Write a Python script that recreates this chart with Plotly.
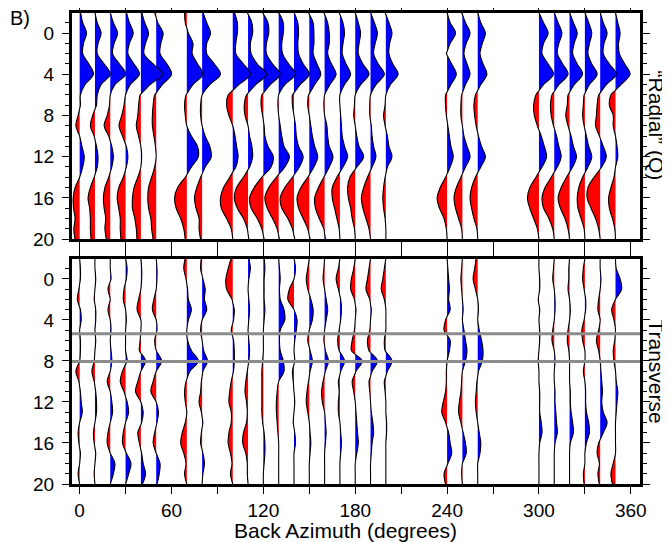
import plotly.graph_objects as go

# time samples (s) and back azimuths (deg) of the stacked receiver functions
TIMES = list(range(-2, 21))
BAZ = [0, 10, 20, 30, 40, 50, 70, 80, 100, 110, 120, 130, 140, 150, 160, 170,
       180, 190, 200, 240, 250, 260, 300, 310, 320, 330, 340, 350]

# "Radial" (Q) amplitudes, one row per back azimuth, sampled at TIMES
R000 = [0.05, 0.2, 0.45, 0.25, 0.2, 0.6, 0.9, 0.35, 0.05, 0.05, -0.1, -0.25, 0.0, 0.15, 0.3, 0.2, 0.0, -0.3, -0.42, -0.4, -0.3, -0.38, -0.3]
R010 = [0.0, 0.15, 0.4, 0.2, 0.15, 0.6, 1.0, 0.4, 0.15, 0.1, -0.15, -0.3, -0.05, 0.1, 0.2, 0.15, -0.05, -0.3, -0.45, -0.35, -0.3, -0.3, -0.25]
R020 = [0.0, 0.2, 0.48, 0.25, 0.15, 0.6, 1.0, 0.3, 0.0, -0.05, -0.2, -0.4, -0.1, 0.1, 0.2, 0.1, -0.1, -0.35, -0.45, -0.4, -0.3, -0.35, -0.25]
R030 = [0.05, 0.25, 0.5, 0.25, 0.15, 0.55, 0.9, 0.3, 0.0, -0.1, -0.25, -0.43, -0.2, 0.05, 0.15, 0.05, -0.15, -0.45, -0.55, -0.45, -0.35, -0.35, -0.3]
R040 = [0.05, 0.25, 0.5, 0.3, 0.2, 0.8, 1.4, 0.6, -0.05, -0.15, -0.2, -0.3, -0.15, 0.0, 0.05, 0.0, -0.2, -0.45, -0.55, -0.55, -0.4, -0.3, -0.25]
R050 = [-0.1, 0.1, 0.45, 0.3, 0.25, 0.7, 1.0, 0.4, -0.1, -0.2, -0.25, -0.25, -0.15, -0.05, 0.0, -0.1, -0.3, -0.5, -0.55, -0.5, -0.35, -0.3, -0.2]
R070 = [-0.15, -0.1, 0.1, 0.4, 0.35, 0.7, 1.05, 0.4, -0.05, -0.15, -0.1, 0.0, 0.3, 0.7, 0.75, 0.3, -0.1, -0.6, -0.8, -0.7, -0.4, -0.2, -0.1]
R080 = [0.05, 0.3, 0.55, 0.3, 0.3, 0.8, 1.2, 0.5, 0.0, -0.1, -0.1, 0.0, 0.2, 0.5, 0.6, 0.2, -0.1, -0.35, -0.5, -0.4, -0.2, -0.2, -0.1]
R100 = [0.1, 0.3, 0.3, 0.2, 0.2, 0.7, 1.15, 0.4, -0.3, -0.4, -0.25, 0.0, 0.15, 0.25, 0.35, 0.2, -0.2, -0.6, -0.8, -0.75, -0.4, -0.1, 0.0]
R110 = [-0.05, 0.25, 0.3, 0.15, 0.2, 0.6, 1.2, 0.5, -0.1, -0.25, -0.2, 0.0, 0.1, 0.25, 0.3, 0.1, -0.3, -0.75, -0.9, -0.7, -0.3, -0.05, 0.05]
R120 = [-0.05, 0.3, 0.35, 0.2, 0.2, 0.6, 1.1, 0.45, -0.1, -0.15, -0.05, 0.05, 0.1, 0.3, 0.65, 0.5, -0.1, -0.6, -0.9, -0.8, -0.4, -0.1, 0.05]
R130 = [0.0, 0.3, 0.3, 0.2, 0.25, 0.65, 1.1, 0.4, 0.0, -0.05, 0.0, 0.1, 0.2, 0.35, 0.7, 0.4, -0.15, -0.65, -0.9, -0.75, -0.4, -0.1, 0.05]
R140 = [0.0, 0.25, 0.3, 0.25, 0.3, 0.6, 1.0, 0.4, -0.1, -0.1, 0.0, 0.1, 0.15, 0.3, 0.6, 0.35, -0.1, -0.6, -0.9, -0.8, -0.4, -0.1, 0.05]
R150 = [-0.05, 0.25, 0.3, 0.3, 0.25, 0.5, 0.75, 0.35, -0.05, -0.1, 0.0, 0.1, 0.2, 0.35, 0.55, 0.3, -0.1, -0.55, -0.8, -0.7, -0.4, -0.1, 0.05]
R160 = [-0.05, 0.2, 0.3, 0.3, 0.2, 0.45, 0.75, 0.35, 0.0, -0.05, 0.0, 0.15, 0.2, 0.3, 0.55, 0.3, -0.05, -0.4, -0.65, -0.6, -0.35, -0.05, 0.05]
R170 = [-0.05, 0.2, 0.3, 0.2, 0.15, 0.4, 0.7, 0.3, 0.0, 0.0, 0.05, 0.1, 0.15, 0.3, 0.5, 0.2, -0.2, -0.5, -0.5, -0.35, -0.2, -0.05, 0.0]
R180 = [0.0, 0.2, 0.35, 0.25, 0.2, 0.5, 0.9, 0.35, 0.0, -0.05, -0.1, 0.0, 0.1, 0.25, 0.55, 0.1, -0.35, -0.5, -0.45, -0.3, -0.2, -0.05, 0.0]
R190 = [0.0, 0.25, 0.45, 0.3, 0.2, 0.5, 0.9, 0.35, 0.0, -0.05, -0.05, 0.05, 0.1, 0.2, 0.35, 0.1, -0.2, -0.45, -0.6, -0.5, -0.3, -0.1, 0.0]
R200 = [-0.05, 0.2, 0.4, 0.25, 0.2, 0.45, 0.8, 0.3, 0.0, -0.05, -0.15, -0.05, 0.1, 0.2, 0.4, 0.1, -0.05, -0.15, -0.2, -0.15, -0.05, 0.0, 0.0]
R240 = [0.0, 0.2, 0.55, 0.2, -0.05, 0.3, 0.6, 0.25, -0.1, -0.1, -0.05, 0.05, 0.15, 0.25, 0.4, 0.2, -0.1, -0.45, -0.65, -0.5, -0.2, -0.05, 0.0]
R250 = [-0.05, 0.2, 0.5, 0.25, 0.1, 0.3, 0.5, 0.2, -0.05, -0.1, -0.1, 0.0, 0.1, 0.3, 0.5, 0.2, -0.1, -0.4, -0.55, -0.45, -0.25, -0.05, 0.0]
R260 = [0.0, 0.2, 0.5, 0.3, 0.15, 0.35, 0.6, 0.2, -0.15, -0.25, -0.2, -0.1, 0.05, 0.25, 0.5, 0.2, -0.15, -0.4, -0.5, -0.4, -0.25, -0.05, 0.0]
R300 = [0.0, 0.3, 0.6, 0.3, 0.2, 0.6, 0.95, 0.3, -0.2, -0.35, -0.3, -0.1, 0.15, 0.35, 0.5, 0.2, -0.2, -0.6, -0.75, -0.6, -0.35, -0.1, 0.0]
R310 = [0.0, 0.25, 0.5, 0.3, 0.2, 0.55, 0.9, 0.3, -0.15, -0.25, -0.2, -0.05, 0.15, 0.3, 0.45, 0.2, -0.2, -0.6, -0.8, -0.7, -0.35, -0.1, 0.0]
R320 = [0.0, 0.25, 0.5, 0.3, 0.2, 0.5, 0.85, 0.3, -0.1, -0.15, -0.25, -0.1, 0.1, 0.25, 0.45, 0.2, -0.2, -0.55, -0.75, -0.6, -0.3, -0.1, 0.0]
R330 = [0.0, 0.25, 0.45, 0.3, 0.2, 0.45, 0.8, 0.3, -0.05, -0.1, -0.15, -0.05, 0.1, 0.25, 0.45, 0.2, -0.15, -0.4, -0.5, -0.45, -0.25, -0.05, 0.0]
R340 = [0.0, 0.2, 0.45, 0.25, 0.2, 0.6, 1.05, 0.4, -0.1, -0.2, -0.25, -0.3, -0.05, 0.2, 0.4, 0.1, -0.4, -0.8, -0.85, -0.6, -0.3, -0.1, 0.0]
R350 = [0.0, 0.15, 0.3, 0.2, 0.25, 0.6, 0.95, 0.35, -0.3, -0.4, -0.15, -0.15, 0.0, 0.1, 0.15, 0.0, -0.1, -0.3, -0.45, -0.4, -0.2, -0.05, 0.0]

# Transverse amplitudes
T000 = [0.0, 0.05, 0.05, -0.05, -0.15, 0.05, 0.1, 0.0, 0.05, 0.05, 0.0, -0.25, -0.05, 0.05, 0.1, 0.17, 0.0, -0.1, -0.05, 0.05, 0.0, -0.1, 0.0]
T010 = [0.0, 0.0, 0.05, 0.0, -0.05, 0.05, 0.05, 0.0, 0.05, 0.0, -0.05, -0.2, -0.05, 0.05, 0.1, 0.1, 0.0, -0.1, -0.05, 0.05, 0.0, -0.05, 0.0]
T020 = [0.0, 0.0, 0.05, -0.15, 0.0, -0.15, 0.0, 0.05, 0.0, 0.05, 0.1, 0.0, -0.2, 0.0, 0.1, 0.15, 0.0, -0.15, -0.2, 0.0, 0.3, 0.2, 0.0]
T030 = [0.0, 0.1, 0.05, -0.1, -0.15, 0.0, 0.05, 0.0, 0.0, 0.0, 0.1, -0.2, -0.35, -0.1, 0.1, 0.2, 0.0, -0.15, -0.2, 0.05, 0.35, 0.2, 0.0]
T040 = [0.0, 0.05, 0.05, 0.0, -0.15, -0.25, 0.0, 0.0, -0.05, -0.1, 0.3, 0.0, -0.2, -0.35, 0.0, 0.15, 0.05, -0.2, -0.1, 0.05, 0.15, 0.3, 0.1]
T050 = [0.0, 0.05, 0.05, 0.0, -0.15, -0.25, 0.0, 0.05, -0.1, 0.0, 0.35, 0.0, -0.2, -0.35, 0.0, 0.15, 0.05, -0.1, -0.2, 0.0, 0.25, 0.2, 0.05]
T070 = [-0.1, -0.2, -0.05, 0.05, 0.1, 0.3, 0.1, 0.0, 0.05, 0.3, 0.75, 0.2, -0.05, -0.15, -0.1, 0.0, -0.1, -0.3, -0.4, -0.2, -0.05, -0.15, 0.0]
T080 = [-0.05, -0.1, 0.05, 0.2, 0.15, 0.3, 0.0, -0.1, 0.0, 0.1, 0.35, 0.05, -0.05, -0.1, -0.2, -0.05, 0.05, -0.05, -0.1, 0.05, 0.15, 0.05, 0.0]
T100 = [-0.1, -0.3, -0.45, -0.4, -0.05, 0.1, 0.05, -0.1, 0.05, 0.1, 0.1, 0.05, -0.1, -0.2, -0.25, -0.1, -0.1, -0.25, -0.3, -0.15, -0.05, -0.15, 0.0]
T110 = [0.05, 0.15, 0.05, 0.0, 0.05, 0.1, 0.05, 0.0, 0.05, 0.1, 0.05, -0.05, -0.15, -0.2, -0.1, -0.05, -0.1, -0.3, -0.35, -0.15, -0.05, -0.05, 0.0]
T120 = [0.05, 0.1, 0.05, 0.05, 0.05, 0.1, 0.05, 0.0, 0.0, 0.0, -0.05, -0.1, -0.1, -0.1, -0.1, -0.1, -0.05, 0.05, 0.1, 0.1, 0.05, 0.0, 0.0]
T130 = [0.0, 0.05, 0.1, 0.05, 0.1, 0.35, 0.4, 0.1, 0.05, 0.1, 0.3, 0.35, 0.0, -0.1, -0.15, -0.15, -0.1, -0.05, 0.0, 0.0, 0.0, 0.0, 0.0]
T140 = [0.0, 0.1, 0.0, -0.3, -0.4, 0.0, 0.2, 0.15, 0.05, 0.0, 0.05, -0.1, -0.05, 0.0, 0.05, 0.0, -0.05, 0.05, 0.1, 0.0, 0.0, 0.0, 0.0]
T150 = [0.0, -0.1, -0.2, -0.1, 0.1, 0.25, 0.2, 0.0, -0.1, 0.05, 0.2, 0.05, -0.05, -0.15, -0.2, -0.1, 0.0, 0.05, 0.1, 0.05, 0.0, 0.0, 0.0]
T160 = [0.0, -0.05, -0.1, 0.0, 0.1, 0.2, 0.1, 0.0, -0.05, 0.05, 0.25, 0.05, -0.1, -0.2, -0.15, 0.0, 0.05, 0.1, 0.05, 0.0, 0.0, 0.0, 0.0]
T170 = [0.0, -0.1, -0.25, -0.1, 0.05, 0.1, 0.05, -0.05, -0.15, -0.05, 0.3, 0.05, -0.1, -0.05, -0.1, -0.1, 0.0, 0.05, 0.1, 0.05, 0.0, 0.0, 0.0]
T180 = [0.0, -0.1, -0.25, -0.3, -0.05, 0.05, 0.0, -0.05, -0.2, -0.25, 0.45, 0.05, -0.2, -0.1, 0.0, 0.05, 0.1, 0.15, 0.2, 0.1, 0.0, 0.0, 0.0]
T190 = [0.0, -0.1, -0.2, -0.3, -0.05, 0.05, 0.0, -0.05, -0.2, -0.1, 0.45, 0.1, -0.1, -0.05, 0.0, 0.05, 0.15, 0.2, 0.1, 0.05, 0.0, 0.0, 0.0]
T200 = [0.0, -0.1, -0.2, -0.3, -0.1, 0.0, 0.0, 0.0, -0.1, -0.05, 0.4, 0.1, -0.1, -0.05, 0.0, 0.0, 0.05, 0.05, 0.0, 0.0, 0.0, 0.0, 0.0]
T240 = [0.0, 0.05, 0.1, 0.15, 0.1, 0.2, -0.1, -0.2, 0.2, 0.15, 0.0, -0.05, -0.05, -0.1, -0.25, -0.35, -0.1, 0.1, 0.2, 0.3, 0.05, -0.2, -0.1]
T250 = [0.0, -0.05, -0.1, -0.05, 0.0, 0.05, 0.0, 0.1, 0.2, 0.3, 0.2, 0.0, -0.05, -0.1, -0.2, -0.25, -0.1, 0.05, 0.2, 0.25, 0.0, -0.05, 0.0]
T260 = [-0.1, -0.2, -0.3, -0.15, 0.0, 0.05, 0.0, 0.1, 0.25, 0.35, 0.3, 0.05, -0.05, -0.1, -0.15, -0.1, 0.0, 0.1, 0.2, 0.15, 0.0, 0.0, 0.0]
T300 = [0.0, 0.0, 0.05, 0.05, -0.05, 0.05, 0.0, 0.05, 0.05, 0.0, -0.05, 0.0, 0.0, 0.05, 0.05, 0.05, 0.15, 0.2, 0.05, 0.0, 0.0, 0.0, 0.0]
T310 = [0.0, -0.05, -0.1, 0.0, 0.05, 0.05, 0.0, -0.1, -0.15, 0.0, 0.05, 0.0, 0.0, 0.05, 0.05, 0.1, 0.15, 0.2, 0.05, 0.0, 0.0, 0.0, 0.0]
T320 = [0.0, -0.05, -0.05, -0.1, 0.0, 0.05, 0.0, -0.1, -0.15, -0.05, 0.0, 0.0, 0.0, 0.05, 0.05, 0.1, 0.2, 0.25, 0.05, 0.0, 0.0, 0.0, 0.0]
T330 = [0.0, -0.1, -0.15, -0.05, 0.05, 0.05, -0.05, -0.2, -0.15, 0.0, 0.0, -0.1, 0.0, 0.05, 0.05, 0.1, 0.25, 0.3, 0.1, 0.0, 0.0, -0.1, -0.05]
T340 = [0.0, 0.0, 0.05, 0.0, -0.1, -0.15, 0.0, -0.1, -0.25, -0.1, 0.0, 0.05, 0.1, 0.15, 0.1, 0.2, 0.45, 0.2, -0.1, -0.2, -0.05, -0.15, -0.05]
T350 = [0.0, 0.05, 0.3, 0.4, 0.0, -0.25, -0.1, 0.0, -0.05, -0.15, -0.1, 0.0, 0.05, 0.15, 0.1, 0.05, 0.0, 0.0, 0.0, 0.0, -0.15, -0.3, -0.2]

RADIAL = [R000, R010, R020, R030, R040, R050, R070, R080, R100, R110, R120, R130, R140, R150,
          R160, R170, R180, R190, R200, R240, R250, R260, R300, R310, R320, R330, R340, R350]
TRANSVERSE = [T000, T010, T020, T030, T040, T050, T070, T080, T100, T110, T120, T130, T140, T150,
              T160, T170, T180, T190, T200, T240, T250, T260, T300, T310, T320, T330, T340, T350]

TIME_LINES = [5.35, 8.05]  # gray marks on the transverse panel

SCALE = 10.0  # degrees of offset per unit amplitude
BLUE = "#0000ff"
RED = "#ff0000"
FONT = "Liberation Sans, Arial, Helvetica, sans-serif"


def knots(amps):
    # samples plus the zero crossings between them
    pts = []
    for i, t in enumerate(TIMES):
        a = amps[i]
        pts.append((t, a))
        if i + 1 < len(TIMES):
            b = amps[i + 1]
            if a * b < 0:
                pts.append((t + a / (a - b), 0.0))
    return pts


def lobes(pts):
    out, cur = [], []
    start = (pts[0][0], 0.0)
    for t, a in pts:
        if a == 0:
            if cur:
                out.append([start] + cur + [(t, 0.0)])
                cur = []
            start = (t, 0.0)
        else:
            cur.append((t, a))
    if cur:
        out.append([start] + cur + [(cur[-1][0], 0.0)])
    return out


def panel_traces(rows, xa, ya):
    fills = {BLUE: ([], []), RED: ([], [])}
    lx, ly = [], []
    for baz, amps in zip(BAZ, rows):
        pts = knots(amps)
        for lobe in lobes(pts):
            col = BLUE if max(a for _, a in lobe) > 0 else RED
            fx, fy = fills[col]
            fx += [baz + SCALE * a for _, a in lobe] + [None]
            fy += [t for t, _ in lobe] + [None]
        lx += [baz + SCALE * a for _, a in pts] + [None]
        ly += [t for t, _ in pts] + [None]
    out = []
    for col, (fx, fy) in fills.items():
        out.append(go.Scatter(x=fx, y=fy, mode="lines", fill="toself", fillcolor=col,
                              line=dict(width=0, shape="spline", color=col),
                              xaxis=xa, yaxis=ya, hoverinfo="skip", showlegend=False))
    out.append(go.Scatter(x=lx, y=ly, mode="lines",
                          line=dict(width=1.1, color="black", shape="spline"),
                          xaxis=xa, yaxis=ya, hoverinfo="skip", showlegend=False))
    return out


fig = go.Figure()
for tr in panel_traces(RADIAL, "x", "y"):
    fig.add_trace(tr)
for tr in panel_traces(TRANSVERSE, "x2", "y2"):
    fig.add_trace(tr)

xcommon = dict(range=[-5, 366], tickvals=list(range(0, 361, 60)), ticks="outside",
               ticklen=7, tickwidth=1.3, tickcolor="black", showline=True, linewidth=3,
               linecolor="black", mirror="ticks", showgrid=False, zeroline=False,
               automargin=False,
               minor=dict(dtick=30, ticks="outside", ticklen=7, tickwidth=1.3,
                          tickcolor="black", showgrid=False),
               tickfont=dict(family=FONT, size=19, color="black"))
ycommon = dict(range=[20, -1.95], tickvals=list(range(0, 21, 4)), ticks="outside",
               ticklen=7, tickwidth=1.3, tickcolor="black", showline=True, linewidth=3,
               linecolor="black", mirror="ticks", showgrid=False, zeroline=False,
               automargin=False, ticklabelstandoff=4,
               minor=dict(dtick=1, ticks="outside", ticklen=4, tickwidth=1,
                          tickcolor="black", showgrid=False),
               tickfont=dict(family=FONT, size=19, color="black"))

# the page body adds an 8 px offset, so the margins are shifted by 8 px
fig.update_layout(
    width=670, height=542,
    margin=dict(l=64, r=38, t=5, b=66, autoexpand=False),
    paper_bgcolor="white", plot_bgcolor="white",
    xaxis=dict(xcommon, anchor="y", showticklabels=False),
    yaxis=dict(ycommon, domain=[0.52, 1.0], anchor="x"),
    xaxis2=dict(xcommon, anchor="y2", matches="x"),
    yaxis2=dict(ycommon, domain=[0.0, 0.478], anchor="x2"),
)

for t in TIME_LINES:
    fig.add_shape(type="line", xref="x2 domain", yref="y2", x0=0, x1=1, y0=t, y1=t,
                  line=dict(color="#8c8c8c", width=3), layer="above")

ann_font = dict(family=FONT, size=21, color="black")
fig.add_annotation(text="B)", xref="paper", yref="paper", x=-0.113, y=0.989,
                   xanchor="left", yanchor="middle", showarrow=False,
                   font=dict(family=FONT, size=20, color="black"))
fig.add_annotation(text="Back Azimuth (degrees)", xref="paper", yref="paper", x=0.481,
                   y=-0.099, xanchor="center", yanchor="middle", showarrow=False, font=ann_font)
fig.add_annotation(text="\u201cRadial\u201d (Q)", xref="paper", yref="paper", x=1.029, y=0.76,
                   textangle=90, xanchor="center", yanchor="middle", showarrow=False, font=ann_font)
fig.add_annotation(text="Transverse", xref="paper", yref="paper", x=1.029, y=0.238,
                   textangle=90, xanchor="center", yanchor="middle", showarrow=False, font=ann_font)

fig.write_html("out.html")
